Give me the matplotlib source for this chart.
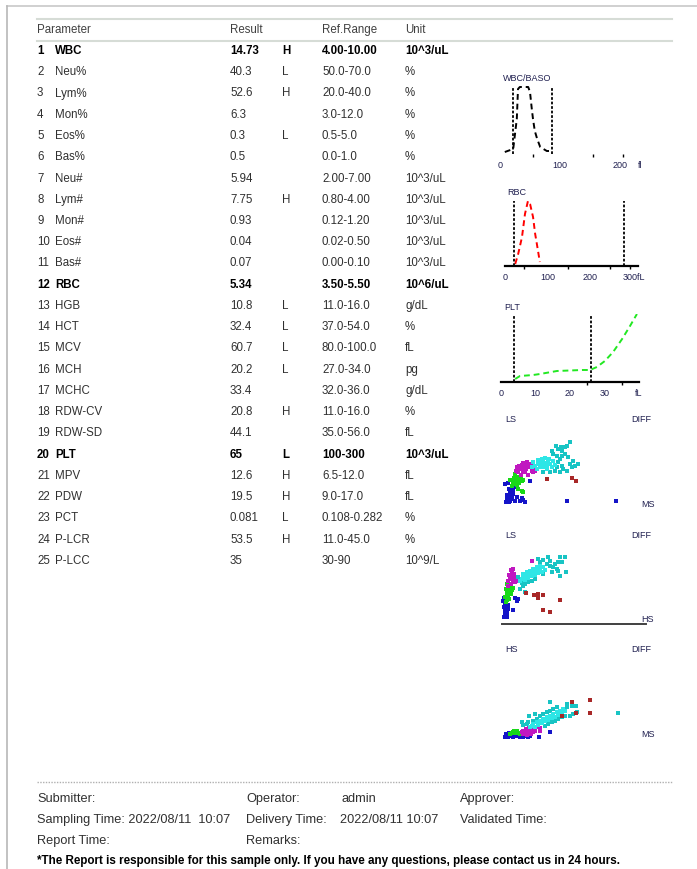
import matplotlib
matplotlib.use('Agg')
import matplotlib.pyplot as plt

W, H = 697, 870
plt.rcParams['font.family'] = ['Liberation Sans', 'DejaVu Sans']

# ---- table data ----
params = ['WBC', 'Neu%', 'Lym%', 'Mon%', 'Eos%', 'Bas%', 'Neu#', 'Lym#', 'Mon#', 'Eos#',
          'Bas#', 'RBC', 'HGB', 'HCT', 'MCV', 'MCH', 'MCHC', 'RDW-CV', 'RDW-SD', 'PLT',
          'MPV', 'PDW', 'PCT', 'P-LCR', 'P-LCC']
results = ['14.73', '40.3', '52.6', '6.3', '0.3', '0.5', '5.94', '7.75', '0.93', '0.04',
           '0.07', '5.34', '10.8', '32.4', '60.7', '20.2', '33.4', '20.8', '44.1', '65',
           '12.6', '19.5', '0.081', '53.5', '35']
flags = ['H', 'L', 'H', '', 'L', '', '', 'H', '', '', '', '', 'L', 'L', 'L', 'L', '', 'H', '',
         'L', 'H', 'H', 'L', 'H', '']
ranges = ['4.00-10.00', '50.0-70.0', '20.0-40.0', '3.0-12.0', '0.5-5.0', '0.0-1.0',
          '2.00-7.00', '0.80-4.00', '0.12-1.20', '0.02-0.50', '0.00-0.10', '3.50-5.50',
          '11.0-16.0', '37.0-54.0', '80.0-100.0', '27.0-34.0', '32.0-36.0', '11.0-16.0',
          '35.0-56.0', '100-300', '6.5-12.0', '9.0-17.0', '0.108-0.282', '11.0-45.0', '30-90']
units = ['10^3/uL', '%', '%', '%', '%', '%', '10^3/uL', '10^3/uL', '10^3/uL', '10^3/uL',
         '10^3/uL', '10^6/uL', 'g/dL', '%', 'fL', 'pg', 'g/dL', '%', 'fL', '10^3/uL',
         'fL', 'fL', '%', '%', '10^9/L']
bold_rows = ['WBC', 'RBC', 'PLT']

# ---- histogram curves ----
wbc_x = [8, 22, 28, 30, 33, 47, 50, 53, 55, 58, 62, 67, 78, 87]
wbc_y = [2, 5, 35, 65, 67, 67, 62, 45, 35, 23, 15, 7, 3, 3]
wbc_lines = [22, 87]

rbc_x = [24, 31, 40, 47, 54, 59, 66, 71, 75, 82]
rbc_y = [2, 12, 29, 52, 65, 62, 49, 32, 22, 4]
rbc_lines = [21, 280]

plt_x = [4.1, 5.5, 9.3, 11.3, 16.2, 23.5, 25.8, 27.8, 30.1, 32.5, 35.1, 37.4, 39.4]
plt_y = [3, 6, 7, 8, 11, 12, 12, 15, 21, 30, 43, 56, 68]
plt_lines = [3.8, 26]

# ---- scatter data (channel units) ----
ls_ms = {
    'blue': [(48, 5), (52, 8), (56, 5), (60, 10), (50, 15), (55, 18), (62, 15), (58, 25), (65, 22),
             (52, 28), (60, 35), (68, 30), (62, 42), (70, 40), (72, 50), (66, 48), (56, 45), (45, 60),
             (55, 63), (95, 17), (105, 5), (90, 8), (100, 12), (120, 70), (230, 10), (378, 10),
             (80, 20), (75, 10)],
    'green': [(65, 55), (70, 60), (75, 65), (80, 58), (85, 70), (90, 75), (78, 72), (72, 78),
              (88, 62), (95, 68), (100, 72), (68, 68), (82, 80), (92, 82), (75, 90), (60, 72),
              (95, 40), (100, 35), (85, 45)],
    'magenta': [(80, 110), (88, 115), (95, 118), (102, 112), (108, 105), (112, 118), (118, 110),
                (125, 100), (98, 100), (90, 105), (85, 95), (105, 95), (130, 95), (135, 100),
                (115, 88), (100, 122), (92, 88), (122, 120), (128, 108), (78, 100), (110, 125)],
    'cyan': [(145, 120), (150, 125), (155, 118), (160, 128), (165, 122), (170, 115), (175, 125),
             (180, 120), (185, 112), (160, 110), (150, 110), (140, 105), (170, 105), (195, 118),
             (190, 130), (178, 135), (165, 138), (155, 135), (145, 132), (135, 115), (130, 125),
             (125, 110), (200, 110), (205, 125), (210, 135), (215, 145), (200, 145), (190, 150),
             (205, 165), (215, 160), (225, 170), (230, 175), (240, 185), (225, 150), (235, 140),
             (240, 120), (250, 130), (255, 115), (265, 120), (245, 110), (230, 100), (220, 105),
             (210, 95), (195, 98), (180, 95), (160, 95), (215, 115), (185, 160), (198, 175),
             (212, 172)],
    'red': [(170, 75), (245, 78), (258, 68)],
}
ls_hs = {
    'blue': [(42, 5), (48, 8), (52, 5), (44, 15), (50, 18), (45, 25), (52, 28), (42, 35), (48, 38),
             (44, 45), (55, 42), (40, 55), (42, 62), (70, 28), (80, 55), (75, 62), (85, 60), (55, 30)],
    'green': [(48, 50), (52, 58), (46, 65), (55, 70), (50, 78), (58, 85), (48, 90), (54, 95),
              (60, 100), (52, 105), (62, 75), (57, 60), (65, 88), (70, 92)],
    'magenta': [(55, 115), (60, 120), (65, 125), (70, 118), (75, 110), (62, 105), (68, 130),
                (58, 132), (72, 135), (65, 140), (78, 125), (55, 100), (80, 115), (62, 148),
                (68, 150), (125, 175)],
    'cyan': [(90, 115), (95, 120), (100, 125), (105, 118), (110, 130), (115, 122), (120, 135),
             (125, 128), (130, 140), (135, 132), (140, 145), (145, 138), (150, 150), (155, 142),
             (160, 155), (165, 148), (100, 135), (110, 140), (120, 145), (130, 150), (140, 155),
             (150, 160), (85, 125), (95, 108), (105, 105), (115, 110), (125, 115), (135, 120),
             (160, 135), (170, 165), (180, 160), (185, 140), (190, 155), (205, 172), (215, 170),
             (210, 185), (225, 187), (200, 150), (205, 145), (228, 140), (180, 175), (145, 180),
             (160, 178), (150, 170), (175, 185), (90, 90), (100, 100), (105, 80), (210, 130),
             (195, 165)],
    'red': [(108, 78), (133, 72), (145, 75), (158, 72), (145, 62), (210, 58), (160, 28), (180, 20)],
}
hs_ms = {
    'blue': [(45, -8), (50, -5), (55, -8), (60, -3), (65, -6), (70, -8), (75, -5), (80, -7),
             (85, -4), (90, -8), (95, -6), (100, -8), (105, -5), (48, 0), (58, 2), (68, 0),
             (110, -7), (115, -8), (120, -6), (180, 5), (148, -10)],
    'green': [(60, 0), (65, 3), (70, 5), (75, 2), (80, 6), (85, 3), (90, 1), (72, 8), (82, 9)],
    'magenta': [(95, 5), (100, 8), (105, 3), (110, 10), (115, 6), (120, 12), (125, 8), (130, 5),
                (108, 15), (118, 18), (128, 14), (135, 10), (140, 20), (150, 18), (100, 0),
                (112, -2), (124, 0), (150, 8)],
    'cyan': [(120, 20), (125, 25), (130, 30), (135, 22), (140, 35), (145, 28), (150, 40), (155, 32),
             (160, 45), (165, 38), (170, 50), (175, 42), (180, 55), (185, 48), (190, 60), (195, 52),
             (200, 65), (205, 58), (210, 70), (215, 62), (220, 75), (225, 68), (140, 45), (150, 55),
             (160, 60), (170, 65), (180, 70), (190, 75), (200, 80), (130, 40), (115, 35), (110, 30),
             (100, 28), (95, 35), (118, 55), (135, 60), (180, 95), (230, 90), (245, 85), (258, 85),
             (232, 80), (250, 60), (240, 55), (260, 65), (385, 62), (165, 25), (175, 30), (185, 35),
             (195, 40), (205, 45), (215, 50), (225, 55)],
    'red': [(300, 103), (245, 97), (300, 62), (258, 62), (215, 55)],
}
dot_colors = {'blue': '#1414c8', 'green': '#18d818', 'magenta': '#c018c0',
              'cyan': '#18c4c4', 'red': '#a82828'}

fig = plt.figure(figsize=(W / 100, H / 100), dpi=100)
page = fig.add_axes([0, 0, 1, 1])
page.set_xlim(0, W)
page.set_ylim(H, 0)
page.axis('off')


def px_axes(x0, y0, x1, y1):
    return fig.add_axes([x0 / W, 1 - y1 / H, (x1 - x0) / W, (y1 - y0) / H])


# page frame
page.plot([7, W], [7, 7], color='#c8c8c8', lw=1.2)
page.plot([7, 7], [7, H], color='#b8b8b8', lw=1.2)

# table header
page.plot([37, 672], [20, 20], color='#d6dcd6', lw=1.5)
page.plot([37, 672], [42, 42], color='#d6dcd6', lw=1.5)
for x, s in [(37, 'Parameter'), (230, 'Result'), (322, 'Ref.Range'), (405, 'Unit')]:
    page.text(x, 30, s, fontsize=8.3, color='#404040', va='center')

for i, name in enumerate(params):
    y = 51 + i * 21.25
    fw = 'bold' if name in bold_rows else 'normal'
    col = 'black' if name in bold_rows else '#303030'
    kw = dict(fontsize=8.3, va='center', color=col, fontweight=fw)
    page.text(37, y, str(i + 1), **kw)
    page.text(55, y, name, **kw)
    page.text(230, y, results[i], **kw)
    page.text(282, y, flags[i], **kw)
    page.text(322, y, ranges[i], **kw)
    page.text(405, y, units[i], **kw)


def hist_panel(box, xlim, ylim, xs, ys, color, lines, ticks, labels, minor, title, baseline):
    ax = px_axes(*box)
    ax.set_xlim(*xlim)
    ax.set_ylim(*ylim)
    ax.plot(xs, ys, color=color, lw=1.4, ls=(0, (3, 2)))
    for v in lines:
        ax.plot([v, v], [0, ylim[1] * 0.97], color='black', lw=1.3, ls=(0, (1.5, 1)))
    for s in ['top', 'right', 'left']:
        ax.spines[s].set_visible(False)
    ax.spines['bottom'].set_visible(baseline)
    ax.spines['bottom'].set_linewidth(1.6)
    ax.set_yticks([])
    ax.set_xticks(ticks)
    ax.set_xticklabels(labels, fontsize=6.5, color='#202050')
    ax.tick_params(axis='x', length=0, pad=4)
    ax.set_xticks(minor, minor=True)
    ax.tick_params(axis='x', which='minor', length=2.5, width=1, direction='out')
    ax.text(0.02, 1.05, title, transform=ax.transAxes, fontsize=6.5, color='#202050',
            va='bottom')
    ax.patch.set_alpha(0)
    return ax


hist_panel((500, 86, 650, 155), (0, 250), (0, 69), wbc_x, wbc_y, 'black', wbc_lines,
           [0, 100, 200, 233], ['0', '100', '200', 'fl'], [55, 155, 205], 'WBC/BASO', False)
hist_panel((505, 200, 638, 267), (0, 313), (0, 67), rbc_x, rbc_y, 'red', rbc_lines,
           [0, 100, 200, 304], ['0', '100', '200', '300fL'], [45, 148, 248, 295], 'RBC', True)
hist_panel((501, 315, 639, 383), (0, 40), (0, 68), plt_x, plt_y, '#22e822', plt_lines,
           [0, 10, 20, 30, 40], ['0', '10', '20', '30', 'fL'], [25, 30, 35, 40], 'PLT', True)


def scatter_panel(top, data, ylab, xlab, axis_line):
    ax = px_axes(490, top, 690, top + 120)
    ax.set_xlim(0, 600)
    ax.set_ylim(-60, 300)
    ax.axis('off')
    for key, pts in data.items():
        ax.scatter([p[0] for p in pts], [p[1] for p in pts], s=5, marker='s',
                   color=dot_colors[key], linewidths=0)
        if key == 'cyan':
            # dense core of the cluster
            core = pts[:22]
            ax.scatter([p[0] for p in core], [p[1] for p in core], s=12, marker='s',
                       color='#2ee6e6', linewidths=0)
    ax.text(45, 255, ylab, fontsize=6.5, color='#202050', va='center')
    ax.text(425, 255, 'DIFF', fontsize=6.5, color='#202050', va='center')
    ax.text(455, 0, xlab, fontsize=6.5, color='#202050', va='center')
    if axis_line:
        ax.plot([35, 468], [-15, -15], color='#404040', lw=1.4)


scatter_panel(405, ls_ms, 'LS', 'MS', False)
scatter_panel(520, ls_hs, 'LS', 'HS', True)
scatter_panel(635, hs_ms, 'HS', 'MS', False)

# footer
page.plot([37, 672], [783, 783], color='#b0b0b0', lw=1, ls=(0, (1, 1)))
fkw = dict(fontsize=9.2, color='#303030', va='center')
page.text(37, 799, 'Submitter:', **fkw)
page.text(246, 799, 'Operator:', **fkw)
page.text(342, 799, 'admin', **fkw)
page.text(460, 799, 'Approver:', **fkw)
page.text(37, 820, 'Sampling Time: 2022/08/11  10:07', **fkw)
page.text(246, 820, 'Delivery Time:', **fkw)
page.text(340, 820, '2022/08/11 10:07', **fkw)
page.text(460, 820, 'Validated Time:', **fkw)
page.text(37, 841, 'Report Time:', **fkw)
page.text(246, 841, 'Remarks:', **fkw)
page.text(37, 861, '*The Report is responsible for this sample only. If you have any questions, '
          'please contact us in 24 hours.', fontsize=8.4, fontweight='bold', color='black',
          va='center')

fig.savefig('out.png', dpi=100)
